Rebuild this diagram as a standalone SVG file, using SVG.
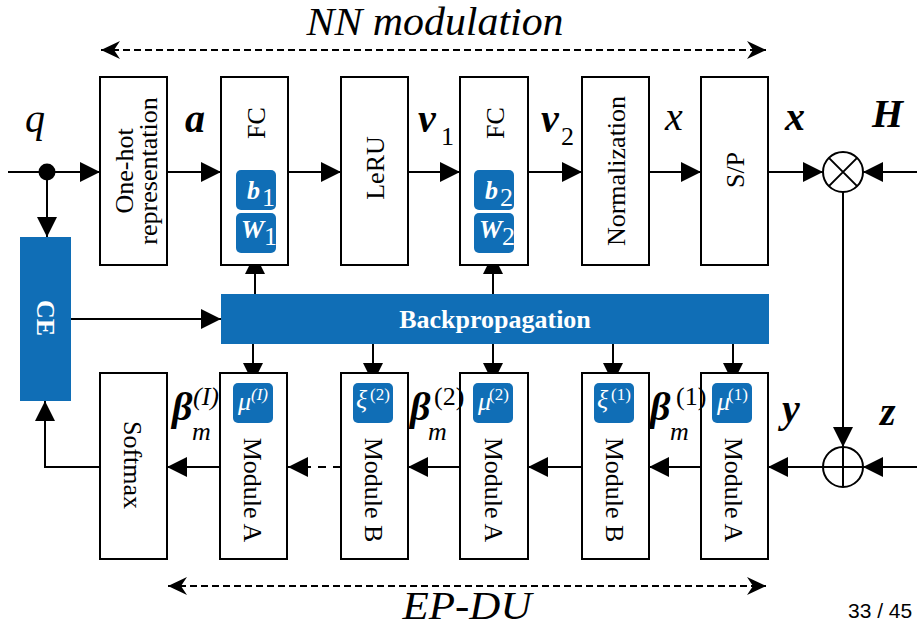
<svg xmlns="http://www.w3.org/2000/svg" width="917" height="628" viewBox="0 0 917 628">
<style>
.box{fill:#fff;stroke:#000;stroke-width:2}
.blue{fill:#106EB6}
.ln{fill:none;stroke:#000;stroke-width:2}
text{font-family:'Liberation Serif','DejaVu Serif','Times New Roman',Times,serif;fill:#000}
.t{font-size:26px}
.w{fill:#fff}
.b{font-weight:bold}
.i{font-style:italic}
.m{font-size:40px;font-style:italic}
.s{font-size:26px}
.sup{font-size:17px;fill:#fff}
.pg{font-family:'Liberation Sans',Arial,sans-serif;font-size:21px}
</style>
<defs>
<marker id="ah" markerUnits="userSpaceOnUse" markerWidth="20" markerHeight="20" refX="20" refY="10" orient="auto">
<path d="M0,0 L20,10 L0,20 z" fill="#000"/>
</marker>
<marker id="ad" markerUnits="userSpaceOnUse" markerWidth="20" markerHeight="20" refX="19" refY="10" orient="auto-start-reverse">
<path d="M0,1 L19,10 L0,19 L6,10 z" fill="#000"/>
</marker>
</defs>
<rect width="917" height="628" fill="#fff"/>

<g id="labels-top">
<text class="m" x="435" y="35" text-anchor="middle" textLength="257" lengthAdjust="spacingAndGlyphs">NN modulation</text>
<text class="m" x="467" y="619" font-size="38" text-anchor="middle" textLength="129" lengthAdjust="spacingAndGlyphs">EP-DU</text>
<text class="pg" x="848" y="618">33 / 45</text>
</g>

<g id="connectors">
<line class="ln" x1="101" y1="50" x2="766" y2="50" stroke-dasharray="7,4" marker-start="url(#ad)" marker-end="url(#ad)"/>
<line class="ln" x1="168" y1="586" x2="766" y2="586" stroke-dasharray="7,4" marker-start="url(#ad)" marker-end="url(#ad)"/>
<line class="ln" x1="8" y1="172" x2="100" y2="172" marker-end="url(#ah)"/>
<circle cx="47" cy="172" r="8.5" fill="#000"/>
<line class="ln" x1="47" y1="172" x2="47" y2="237" marker-end="url(#ah)"/>
<line class="ln" x1="167" y1="172" x2="221" y2="172" marker-end="url(#ah)"/>
<line class="ln" x1="288" y1="172" x2="341" y2="172" marker-end="url(#ah)"/>
<line class="ln" x1="408" y1="172" x2="460" y2="172" marker-end="url(#ah)"/>
<line class="ln" x1="528" y1="172" x2="582" y2="172" marker-end="url(#ah)"/>
<line class="ln" x1="649" y1="172" x2="701" y2="172" marker-end="url(#ah)"/>
<line class="ln" x1="768" y1="172" x2="823" y2="172" marker-end="url(#ah)"/>
<line class="ln" x1="917" y1="172" x2="863" y2="172" marker-end="url(#ah)"/>
<line class="ln" x1="843" y1="192" x2="843" y2="447" marker-end="url(#ah)"/>
<line class="ln" x1="917" y1="467" x2="863" y2="467" marker-end="url(#ah)"/>
<line class="ln" x1="823" y1="467" x2="768" y2="467" marker-end="url(#ah)"/>
<line class="ln" x1="701" y1="467" x2="649" y2="467" marker-end="url(#ah)"/>
<line class="ln" x1="582" y1="467" x2="528" y2="467" marker-end="url(#ah)"/>
<line class="ln" x1="460" y1="467" x2="408" y2="467" marker-end="url(#ah)"/>
<line class="ln" x1="341" y1="467" x2="288" y2="467" stroke-dasharray="8,7" marker-end="url(#ah)"/>
<line class="ln" x1="220" y1="467" x2="167" y2="467" marker-end="url(#ah)"/>
<polyline class="ln" points="100,467 45,467 45,401" marker-end="url(#ah)"/>
<line class="ln" x1="71" y1="319" x2="221" y2="319" marker-end="url(#ah)"/>
<line class="ln" x1="255" y1="294" x2="255" y2="254" marker-end="url(#ah)"/>
<line class="ln" x1="493" y1="294" x2="493" y2="254" marker-end="url(#ah)"/>
<line class="ln" x1="253" y1="344" x2="253" y2="383" marker-end="url(#ah)"/>
<line class="ln" x1="373" y1="344" x2="373" y2="383" marker-end="url(#ah)"/>
<line class="ln" x1="493" y1="344" x2="493" y2="383" marker-end="url(#ah)"/>
<line class="ln" x1="613" y1="344" x2="613" y2="383" marker-end="url(#ah)"/>
<line class="ln" x1="733" y1="344" x2="733" y2="383" marker-end="url(#ah)"/>
</g>

<g id="onehot">
<rect class="box" x="100" y="77" width="67" height="188"/>
<g transform="translate(133.5,171) rotate(-90)">
<text class="t" x="0" y="-1" text-anchor="middle">One-hot</text>
<text class="t" x="0" y="23" text-anchor="middle">representation</text>
</g>
</g>

<g id="fc1">
<rect class="box" x="221" y="77" width="67" height="188"/>
<text class="t" transform="translate(254.5,123) rotate(-90)" x="0" y="10" text-anchor="middle">FC</text>
<rect class="blue" x="236" y="170" width="40" height="40" rx="5"/>
<rect class="blue" x="236" y="213" width="40" height="40" rx="5"/>
<text class="s w b i" x="247" y="199" font-size="22">b</text>
<text class="s w" x="262" y="206" font-size="15">1</text>
<text class="s w b i" x="241" y="238" font-size="22">W</text>
<text class="s w" x="264" y="245" font-size="15">1</text>
</g>

<g id="leru">
<rect class="box" x="341" y="77" width="67" height="188"/>
<text class="t" transform="translate(374.5,168) rotate(-90)" x="0" y="9" text-anchor="middle">LeRU</text>
</g>

<g id="fc2">
<rect class="box" x="460" y="77" width="68" height="188"/>
<text class="t" transform="translate(494,123) rotate(-90)" x="0" y="10" text-anchor="middle">FC</text>
<rect class="blue" x="474" y="170" width="40" height="40" rx="5"/>
<rect class="blue" x="474" y="213" width="40" height="40" rx="5"/>
<text class="s w b i" x="485" y="199" font-size="22">b</text>
<text class="s w" x="500" y="206" font-size="15">2</text>
<text class="s w b i" x="479" y="238" font-size="22">W</text>
<text class="s w" x="502" y="245" font-size="15">2</text>
</g>

<g id="normalization">
<rect class="box" x="582" y="77" width="67" height="188"/>
<text class="t" transform="translate(615.5,171) rotate(-90)" x="0" y="9" text-anchor="middle">Normalization</text>
</g>

<g id="sp">
<rect class="box" x="701" y="77" width="67" height="188"/>
<text class="t" transform="translate(734.5,170) rotate(-90)" x="0" y="9" text-anchor="middle">S/P</text>
</g>

<g id="multiply">
<circle cx="843" cy="172" r="20" fill="#fff" stroke="#000" stroke-width="2"/>
<path class="ln" d="M828.9,157.9 L857.1,186.1 M857.1,157.9 L828.9,186.1"/>
</g>

<g id="add">
<circle cx="843" cy="467" r="20" fill="#fff" stroke="#000" stroke-width="2"/>
<path class="ln" d="M823,467 L863,467 M843,447 L843,487"/>
</g>

<g id="ce">
<rect class="blue" x="20" y="237" width="51" height="164"/>
<text class="t w b" transform="translate(45.5,318) rotate(90)" x="0" y="9" text-anchor="middle">CE</text>
</g>

<g id="backpropagation">
<rect class="blue" x="221" y="294" width="548" height="50"/>
<text class="t w b" x="495" y="328" text-anchor="middle">Backpropagation</text>
</g>

<g id="softmax">
<rect class="box" x="100" y="373" width="67" height="186"/>
<text class="t" transform="translate(133.5,465) rotate(90)" x="0" y="9.5" text-anchor="middle">Softmax</text>
</g>

<g id="moduleA-l">
<rect class="box" x="220" y="373" width="67" height="186"/>
<rect class="blue" x="233" y="383" width="40" height="40" rx="5"/>
<text class="s w i" x="238" y="410" font-size="26">μ</text>
<text class="sup i" x="251" y="400">(I)</text>
<text class="t" transform="translate(253.5,490) rotate(90)" x="0" y="9.5" text-anchor="middle">Module A</text>
</g>

<g id="moduleB-2">
<rect class="box" x="341" y="373" width="67" height="186"/>
<rect class="blue" x="353" y="383" width="40" height="40" rx="5"/>
<text class="s w i" x="356" y="408" font-size="26">ξ</text>
<text class="sup" x="370" y="400">(2)</text>
<text class="t" transform="translate(374.5,490) rotate(90)" x="0" y="9.5" text-anchor="middle">Module B</text>
</g>

<g id="moduleA-2">
<rect class="box" x="460" y="373" width="68" height="186"/>
<rect class="blue" x="473" y="383" width="40" height="40" rx="5"/>
<text class="s w i" x="478" y="410" font-size="26">μ</text>
<text class="sup" x="489" y="400">(2)</text>
<text class="t" transform="translate(494,490) rotate(90)" x="0" y="9.5" text-anchor="middle">Module A</text>
</g>

<g id="moduleB-1">
<rect class="box" x="582" y="373" width="67" height="186"/>
<rect class="blue" x="594" y="383" width="40" height="40" rx="5"/>
<text class="s w i" x="597" y="408" font-size="26">ξ</text>
<text class="sup" x="611" y="400">(1)</text>
<text class="t" transform="translate(615.5,490) rotate(90)" x="0" y="9.5" text-anchor="middle">Module B</text>
</g>

<g id="moduleA-1">
<rect class="box" x="701" y="373" width="67" height="186"/>
<rect class="blue" x="712" y="383" width="40" height="40" rx="5"/>
<text class="s w i" x="717" y="410" font-size="26">μ</text>
<text class="sup" x="728" y="400">(1)</text>
<text class="t" transform="translate(734.5,490) rotate(90)" x="0" y="9.5" text-anchor="middle">Module A</text>
</g>

<g id="signal-labels">
<text class="m" x="25" y="132">q</text>
<text class="m b" x="185" y="132">a</text>
<text class="m b" x="418" y="132">v</text><text class="s" x="441" y="145" font-size="27">1</text>
<text class="m b" x="541" y="132">v</text><text class="s" x="561" y="145" font-size="27">2</text>
<text class="m" x="665" y="130">x</text>
<text class="m b" x="785" y="130">x</text>
<text class="m b" x="872" y="127">H</text>
<text class="m b" x="782" y="422">y</text>
<text class="m b" x="880" y="425">z</text>
<text class="m b" x="172" y="420">β</text><text class="s i" x="192" y="440">m</text><text class="s i" x="193" y="405">(I)</text>
<text class="m b" x="410" y="420">β</text><text class="s i" x="428" y="440">m</text><text class="s" x="434" y="405">(2)</text>
<text class="m b" x="650" y="420">β</text><text class="s i" x="670" y="440">m</text><text class="s" x="676" y="405">(1)</text>
</g>
</svg>
